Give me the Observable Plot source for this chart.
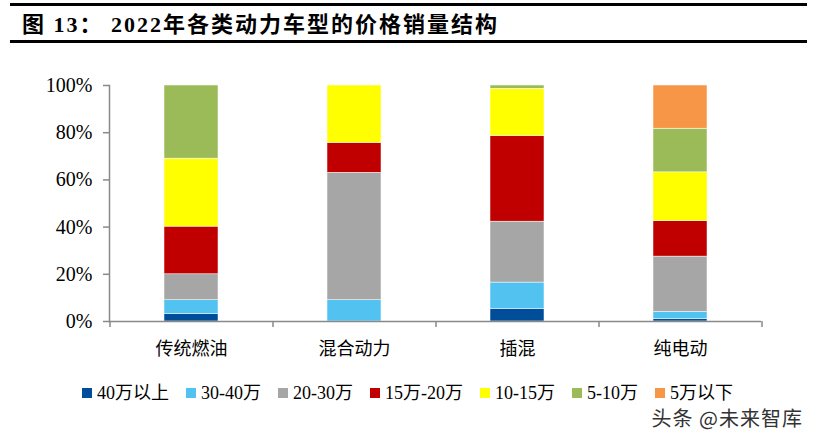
<!DOCTYPE html>
<html><head><meta charset="utf-8">
<script src="https://cdn.jsdelivr.net/npm/d3@7"></script>
<script src="https://cdn.jsdelivr.net/npm/@observablehq/plot@0.6"></script>
<style>
body{margin:0;background:#fff;}
#wrap{position:relative;width:815px;height:441px;overflow:hidden;background:#fff;font-family:"Liberation Serif","Noto Sans CJK SC",serif;color:#000;}
.hr{position:absolute;left:10px;width:797px;height:3px;background:#000;}
#title{position:absolute;left:22px;top:6px;font-size:22px;font-weight:bold;white-space:nowrap;letter-spacing:2px;}
#chart{position:absolute;left:0;top:50px;}
#legend{position:absolute;top:384px;left:82px;display:flex;font-size:18px;line-height:18px;white-space:nowrap;align-items:center;}
.item{display:flex;align-items:center;margin-right:17px;}
.sw{width:10px;height:10px;margin-right:5px;}
#mark{position:absolute;right:12px;top:408px;font-family:"Noto Sans CJK SC",sans-serif;font-size:20px;line-height:20px;letter-spacing:1px;color:#333;}
</style></head>
<body>
<div id="wrap">
  <div class="hr" style="top:3px"></div>
  <div id="title">图 13： 2022年各类动力车型的价格销量结构</div>
  <div class="hr" style="top:40px"></div>
  <div id="chart"></div>
  <div id="legend"></div>
  <div id="mark">头条 @未来智库</div>
</div>
<script>
const categories = ["传统燃油","混合动力","插混","纯电动"];
const segments = ["40万以上","30-40万","20-30万","15万-20万","10-15万","5-10万","5万以下"];
const colors = ["#004E9A","#52C3F1","#A6A6A6","#C00000","#FFFF00","#9BBB59","#F79646"];
const fuel   = [3.1, 5.9, 11.0, 20.2, 28.8, 31.0, 0];
const hybrid = [0, 9.0, 54.0, 12.7, 24.3, 0, 0];
const phev   = [5.4, 11.1, 25.8, 36.3, 20.0, 1.4, 0];
const bev    = [1.0, 3.0, 23.5, 15.0, 20.7, 18.5, 18.3];
const yTicks = [0, 20, 40, 60, 80, 100];

const series = [fuel, hybrid, phev, bev];
const rows = [];
categories.forEach((c, i) => segments.forEach((s, j) => {
  if (series[i][j] > 0) rows.push({cat: c, seg: s, value: series[i][j]});
}));

const W = 815, H = 320, ML = 109, MR = 54, MT = 35, MB = 49;
const xOpts = {type: "band", domain: categories, paddingInner: 0.67, paddingOuter: 0.335, label: null};
const xs = Plot.scale({x: {...xOpts, range: [ML, W - MR]}});
const half = xs.step / 2;
const axisColor = "#898989";

const chart = Plot.plot({
  width: W, height: H, marginLeft: ML, marginRight: MR, marginTop: MT, marginBottom: MB,
  style: {fontFamily: '"Liberation Serif","Noto Sans CJK SC",serif', background: "white", color: "#000", overflow: "visible"},
  x: xOpts,
  y: {domain: [0, 100], label: null},
  color: {domain: segments, range: colors},
  marks: [
    Plot.barY(rows, {x: "cat", y: "value", fill: "seg", stroke: "white", strokeWidth: 0.5}),
    Plot.ruleY([0], {stroke: axisColor, strokeWidth: 1.5}),
    Plot.frame({anchor: "left", stroke: axisColor, strokeWidth: 1.5}),
    Plot.axisY({ticks: yTicks, tickFormat: d => d + "%", tickSize: 6, tickPadding: 11, fontSize: 20, stroke: axisColor, strokeWidth: 1.5, label: null}),
    Plot.axisX({tickSize: 0, tickPadding: 21, fontSize: 18, label: null}),
    Plot.axisX({tickSize: 6, tickFormat: () => "", dx: -half, stroke: axisColor, strokeWidth: 1.5, label: null}),
    Plot.axisX({ticks: [categories[categories.length - 1]], tickSize: 6, tickFormat: () => "", dx: half, stroke: axisColor, strokeWidth: 1.5, label: null})
  ]
});
document.getElementById("chart").appendChild(chart);

const legend = document.getElementById("legend");
segments.forEach((s, i) => {
  const it = document.createElement("div");
  it.className = "item";
  const sw = document.createElement("span");
  sw.className = "sw";
  sw.style.background = colors[i];
  const t = document.createElement("span");
  t.textContent = s;
  it.appendChild(sw); it.appendChild(t);
  legend.appendChild(it);
});
</script>
</body></html>
